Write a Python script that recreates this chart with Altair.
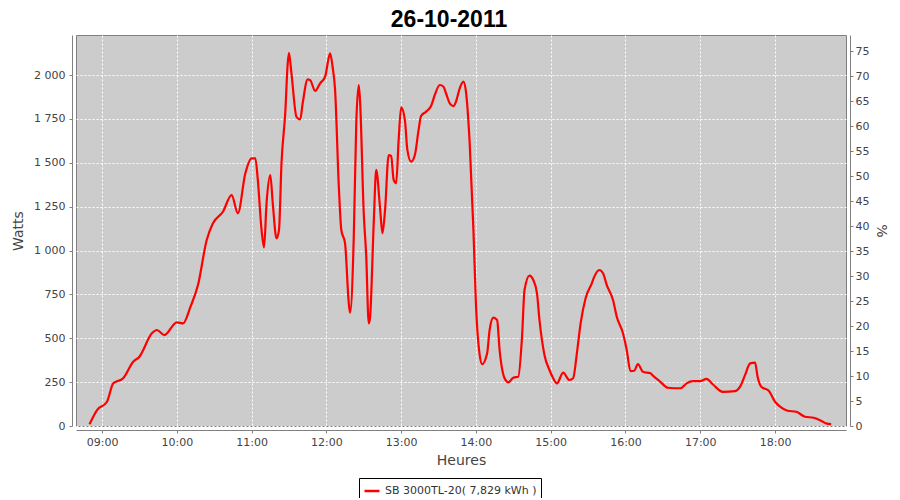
import altair as alt
import pandas as pd

# --- data ---
times = ["08:50", "08:56", "09:04", "09:09", "09:17", "09:25", "09:30", "09:40", "09:44", "09:50",
         "10:00", "10:05", "10:11", "10:17", "10:24", "10:29", "10:37", "10:44", "10:49", "10:55",
         "11:00", "11:03", "11:05", "11:08", "11:10", "11:12", "11:15", "11:17", "11:20", "11:22",
         "11:24", "11:27", "11:29", "11:30", "11:32", "11:36", "11:39", "11:41", "11:45", "11:47",
         "11:51", "11:55", "11:59", "12:03", "12:05", "12:07", "12:10", "12:12", "12:15", "12:18",
         "12:19", "12:22", "12:24", "12:26", "12:27", "12:30", "12:32", "12:34", "12:35", "12:38",
         "12:40", "12:43", "12:45", "12:47", "12:50", "12:52", "12:54", "12:56", "12:58", "13:00",
         "13:03", "13:05", "13:08", "13:11", "13:14", "13:16", "13:20", "13:24", "13:27", "13:31",
         "13:34", "13:36", "13:39", "13:42", "13:44", "13:47", "13:50", "13:52", "13:55", "13:58",
         "14:00", "14:03", "14:05", "14:09", "14:11", "14:14", "14:17", "14:19", "14:23", "14:26",
         "14:30", "14:34", "14:37", "14:39", "14:43", "14:46", "14:49", "14:51", "14:55", "14:59",
         "15:02", "15:05", "15:10", "15:15", "15:18", "15:21", "15:24", "15:28", "15:33", "15:35",
         "15:39", "15:42", "15:45", "15:50", "15:53", "15:58", "16:01", "16:04", "16:07", "16:10",
         "16:14", "16:20", "16:22", "16:28", "16:34", "16:44", "16:49", "16:54", "17:00", "17:05",
         "17:10", "17:18", "17:28", "17:32", "17:36", "17:40", "17:44", "17:46", "17:49", "17:55",
         "18:00", "18:04", "18:10", "18:17", "18:24", "18:31", "18:37", "18:41", "18:45"]
watts = [10, 91, 138, 243, 272, 366, 395, 528, 547, 518,
         591, 585, 680, 803, 1060, 1155, 1221, 1316, 1212, 1440,
         1525, 1525, 1402, 1117, 1018, 1269, 1430, 1269, 1069, 1117,
         1497, 1782, 2066, 2127, 2010, 1762, 1747, 1839, 1975, 1971,
         1909, 1953, 1990, 2123, 2047, 1915, 1364, 1117, 1041, 699,
         646, 1079, 1725, 1943, 1858, 1212, 965, 585, 613, 1155,
         1459, 1250, 1098, 1221, 1544, 1538, 1402, 1383, 1630, 1816,
         1744, 1573, 1506, 1544, 1687, 1766, 1791, 1823, 1886, 1943,
         1933, 1896, 1839, 1823, 1848, 1924, 1962, 1905, 1611, 1117,
         699, 405, 352, 414, 547, 617, 604, 433, 272, 249,
         275, 281, 509, 775, 857, 832, 756, 604, 405, 319,
         272, 243, 304, 262, 272, 414, 585, 728, 813, 851,
         889, 870, 803, 718, 623, 528, 433, 313, 315, 353,
         309, 300, 287, 252, 218, 215, 243, 256, 256, 268,
         238, 195, 199, 224, 291, 357, 361, 281, 224, 201,
         138, 110, 87, 81, 53, 47, 30, 15, 11]
series_name = "SB 3000TL-20( 7,829 kWh )"
hour_ticks = [9, 10, 11, 12, 13, 14, 15, 16, 17, 18]
watt_ticks = [0, 250, 500, 750, 1000, 1250, 1500, 1750, 2000]
pct_ticks = [0, 5, 10, 15, 20, 25, 30, 35, 40, 45, 50, 55, 60, 65, 70, 75]

df = pd.DataFrame({"t": times, "watts": watts})
df["hour"] = df["t"].apply(lambda s: int(s[:2]) + int(s[3:]) / 60.0)
df["serie"] = series_name
df["pct"] = 0.0

FONT = "DejaVu Sans"
GREY = "#444444"
AXC = "#808080"

xscale = alt.Scale(domain=[8.652, 18.949], nice=False, zero=False)

line = alt.Chart(df).mark_line(strokeWidth=2.2, interpolate="monotone").encode(
    x=alt.X("hour:Q", scale=xscale,
            axis=alt.Axis(title="Heures", values=hour_ticks,
                          labelExpr="(datum.value < 10 ? '0' : '') + datum.value + ':00'",
                          grid=True, gridColor="white", gridDash=[2, 2], gridWidth=1,
                          offset=4, tickSize=3, labelPadding=3, titlePadding=6)),
    y=alt.Y("watts:Q", scale=alt.Scale(domain=[0, 2228], nice=False),
            axis=alt.Axis(title="Watts", values=watt_ticks, orient="left",
                          labelExpr="replace(format(datum.value, ','), ',', ' ')",
                          grid=True, gridColor="white", gridDash=[2, 2], gridWidth=1,
                          offset=4, tickSize=3, labelPadding=4, titlePadding=8)),
    color=alt.Color("serie:N", scale=alt.Scale(range=["#ff0000"]),
                    legend=alt.Legend(title=None, orient="none", legendX=283, legendY=443,
                                      symbolType="stroke", symbolStrokeWidth=2.5, symbolSize=225,
                                      strokeColor="black", padding=4, labelFont=FONT,
                                      labelFontSize=11, labelColor="#333333", labelOffset=4)),
)

right = alt.Chart(df).mark_line(strokeOpacity=0).encode(
    x=alt.X("hour:Q", scale=xscale),
    y=alt.Y("pct:Q", scale=alt.Scale(domain=[0, 78.2], nice=False),
            axis=alt.Axis(title="%", values=pct_ticks, orient="right", grid=False,
                          offset=4, tickSize=3, labelPadding=2, titlePadding=5)),
)

chart = alt.layer(line, right).resolve_scale(y="independent").properties(
    width=770, height=391,
    title=alt.TitleParams("26-10-2011", font="Liberation Sans", fontSize=23,
                          fontWeight="bold", color="black", anchor="middle",
                          dx=-12, offset=3),
    autosize=alt.AutoSizeParams(type="none"),
    padding={"left": 68, "top": 27, "right": 46, "bottom": 72},
).configure_view(
    fill="#cccccc", stroke=AXC, strokeWidth=1
).configure_axis(
    labelFont=FONT, labelFontSize=11, labelColor=GREY,
    titleFont=FONT, titleFontSize=14, titleColor=GREY, titleFontWeight="normal",
    domainColor=AXC, tickColor=AXC, domainWidth=1
)

chart.save("out.html", embed_options={"renderer": "svg", "actions": False})
